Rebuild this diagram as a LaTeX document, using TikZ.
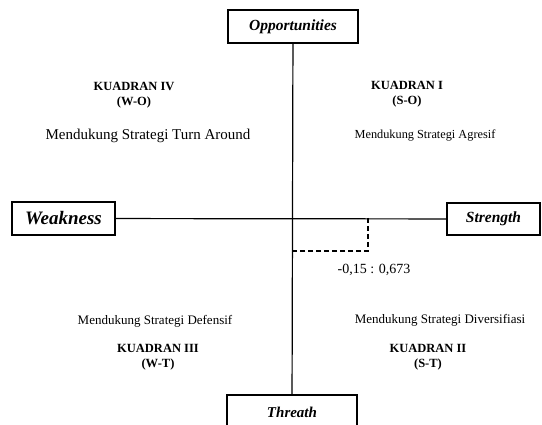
\documentclass[tikz,border=0pt]{standalone}
\usepackage{fontspec}
\setmainfont{Liberation Serif}

\begin{document}
\begin{tikzpicture}[x=1pt, y=-1pt,
    axisbox/.style={draw, rectangle, line width=1.4pt, inner sep=0pt},
    kuadran/.style={align=center, font=\bfseries\fontsize{12.5}{15}\selectfont},
    strategi/.style={font=\fontsize{13}{15}\selectfont}]
    \useasboundingbox (0,0) rectangle (542,425);
    % kotak pada ujung sumbu
    \node[axisbox, minimum width=130pt, minimum height=33pt, font=\bfseries\itshape\fontsize{15.5}{17}\selectfont] (O) at (293, 26.5) {Opportunities};
    \node[axisbox, minimum width=103pt, minimum height=33pt, font=\bfseries\itshape\fontsize{19}{21}\selectfont] (W) at (63.5, 218.5) {Weakness};
    \node[axisbox, minimum width=93pt, minimum height=32pt, font=\bfseries\itshape\fontsize{15.5}{17}\selectfont] (S) at (493.5, 219) {Strength};
    \node[axisbox, minimum width=130pt, minimum height=34pt, font=\bfseries\itshape\fontsize{15}{17}\selectfont] (T) at (292, 412) {Threath};

    % sumbu
    \draw[line width=1.2pt] (O) -- (T);
    \draw[line width=1.2pt] (W) -- (S);

    % titik posisi
    \coordinate (P) at (368, 218);
    \coordinate (Q) at (368, 251);
    \coordinate (R) at (292, 251);
    \draw[line width=1.2pt, dash pattern=on 5pt off 3pt] (P) -- (Q) -- (R);
    \node[font=\fontsize{14}{16}\selectfont] (nilai) at (374, 270) {-0,15 : 0,673};

    % keterangan kuadran
    \node[kuadran] (K4) at (134, 95.5) {KUADRAN IV\\(W-O)};
    \node[strategi, font=\fontsize{15}{17}\selectfont] (S4) at (148, 136) {Mendukung Strategi Turn Around};
    \node[kuadran] (K1) at (407, 94.5) {KUADRAN I\\(S-O)};
    \node[strategi, font=\fontsize{12.3}{14}\selectfont] (S1) at (425, 135) {Mendukung Strategi Agresif};
    \node[strategi] (S3) at (155, 321) {Mendukung Strategi Defensif};
    \node[kuadran] (K3) at (158, 357.5) {KUADRAN III\\(W-T)};
    \node[strategi] (S2) at (440, 320) {Mendukung Strategi Diversifiasi};
    \node[kuadran] (K2) at (428, 357.5) {KUADRAN II\\(S-T)};
\end{tikzpicture}
\end{document}
